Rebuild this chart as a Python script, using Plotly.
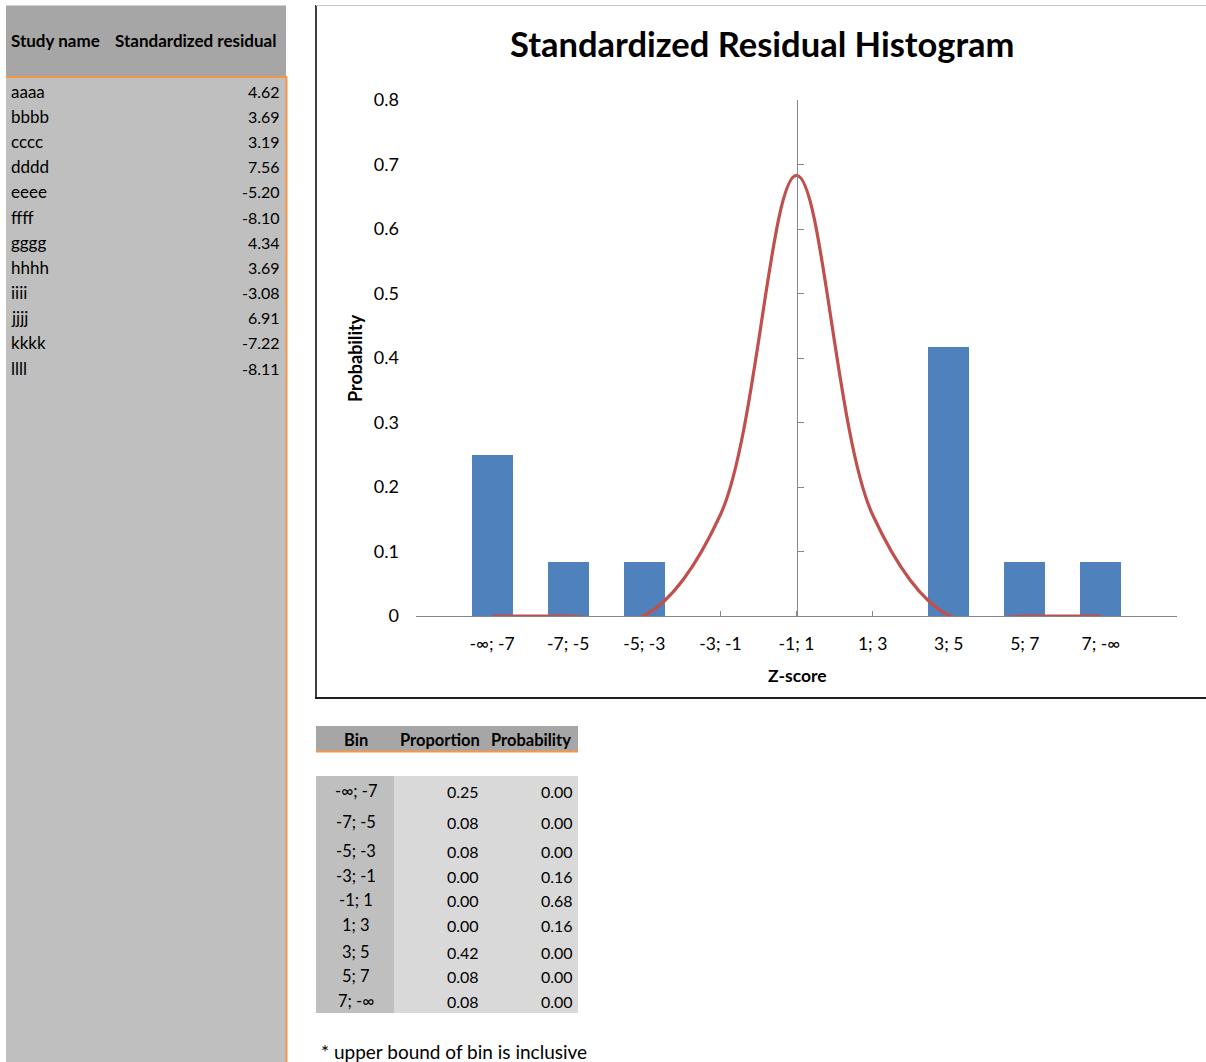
import plotly.graph_objects as go

# ---------------- data ----------------
study_names = ["aaaa", "bbbb", "cccc", "dddd", "eeee", "ffff",
               "gggg", "hhhh", "iiii", "jjjj", "kkkk", "llll"]
residuals = [4.62, 3.69, 3.19, 7.56, -5.20, -8.10, 4.34, 3.69, -3.08, 6.91, -7.22, -8.11]

bin_labels = ["-∞; -7", "-7; -5", "-5; -3", "-3; -1", "-1; 1", "1; 3", "3; 5", "5; 7", "7; -∞"]
bin_centers = [-8, -6, -4, -2, 0, 2, 4, 6, 8]
proportions = [0.25, 0.0833, 0.0833, 0.0, 0.0, 0.0, 0.4167, 0.0833, 0.0833]
probabilities = [0.0, 0.0, 0.001, 0.157, 0.683, 0.157, 0.001, 0.0, 0.0]

axis_ticks = [-10, -8, -6, -4, -2, 0, 2, 4, 6, 8, 10]
axis_ticktext = [""] + bin_labels + [""]

# ---------------- layout helpers (pixel -> paper) ----------------
W, H = 1206, 1062
FONT = "Lato, Carlito, 'Open Sans', sans-serif"


def px(x):
    return x / W


def py(y):
    return 1 - y / H


BLUE = "#4f81bd"
RED = "#c0504d"
ORANGE = "#f79646"
AXIS = "#868686"

fig = go.Figure()

fig.add_trace(go.Bar(
    x=bin_centers, y=proportions, width=1.08,
    marker=dict(color=BLUE, line=dict(width=0)),
    xaxis="x", yaxis="y", hoverinfo="skip", showlegend=False,
))
fig.add_trace(go.Scatter(
    x=bin_centers, y=probabilities, mode="lines",
    line=dict(color=RED, width=3.2, shape="spline", smoothing=1.0),
    xaxis="x", yaxis="y2", hoverinfo="skip", showlegend=False,
))

shapes = []


def rect(x0, y0, x1, y1, color):
    shapes.append(dict(type="rect", xref="paper", yref="paper",
                       x0=px(x0), x1=px(x1), y0=py(y1), y1=py(y0),
                       fillcolor=color, line=dict(width=0), layer="below"))


def line(x0, y0, x1, y1, color, width):
    shapes.append(dict(type="line", xref="paper", yref="paper",
                       x0=px(x0), x1=px(x1), y0=py(y0), y1=py(y1),
                       line=dict(color=color, width=width), layer="below"))


# left table
rect(6, 77, 286, 1062, "#bfbfbf")
rect(6, 6, 286, 77, "#a6a6a6")
line(6, 5.5, 286, 5.5, "#d0d0d0", 1)
line(6, 77, 287, 77, ORANGE, 2)
line(286.5, 77, 286.5, 1062, ORANGE, 2)

# chart frame
line(316, 5, 316, 699, "#404040", 2)
line(316, 5.5, 1206, 5.5, "#c8c8c8", 1)
line(315, 698, 1206, 698, "#202020", 2)

# bottom table
rect(316, 726, 578, 751, "#a6a6a6")
line(316, 751.5, 578, 751.5, ORANGE, 2)
rect(316, 776, 394, 1013, "#bfbfbf")
rect(394, 776, 578, 1013, "#d9d9d9")

annotations = []


def text(x, y, s, size=15, bold=False, xanchor="left", angle=0):
    annotations.append(dict(
        xref="paper", yref="paper", x=px(x), y=py(y),
        text=f"<b>{s}</b>" if bold else s, showarrow=False,
        xanchor=xanchor, yanchor="middle", textangle=angle,
        font=dict(family=FONT, size=size, color="black"),
    ))


# left table text
text(9, 41, "Study name", size=17, bold=True)
text(113, 41, "Standardized residual", size=17, bold=True)
row0, step = 91, 25.2
for i, (n, v) in enumerate(zip(study_names, residuals)):
    y = row0 + i * step
    text(9, y, n, size=17)
    text(282, y, f"{v:.2f}", size=16, xanchor="right")

# chart titles
text(762, 44, "Standardized Residual Histogram", size=34.5, bold=True, xanchor="center")
text(355, 358, "Probability", size=18, bold=True, xanchor="center", angle=-90)
text(797, 675, "Z-score", size=17.5, bold=True, xanchor="center")

# bottom table
text(356, 740, "Bin", size=16.5, bold=True, xanchor="center")
text(440, 740, "Proportion", size=16.5, bold=True, xanchor="center")
text(531, 740, "Probability", size=16.5, bold=True, xanchor="center")
table_row_y = [791, 822, 851, 876, 900, 925, 952, 976, 1001]
for y, b, p, q in zip(table_row_y, bin_labels, proportions, probabilities):
    text(356, y, b, size=16.5, xanchor="center")
    text(481, y, f"{p:.2f}", size=16, xanchor="right")
    text(575, y, f"{q:.2f}", size=16, xanchor="right")

text(319, 1051, "* upper bound of bin is inclusive", size=19)

fig.update_layout(
    template="none",
    width=W, height=H, autosize=False,
    margin=dict(l=0, r=0, t=0, b=0, pad=0, autoexpand=False),
    paper_bgcolor="white", plot_bgcolor="rgba(0,0,0,0)",
    showlegend=False, bargap=0,
    shapes=shapes, annotations=annotations,
    font=dict(family=FONT, color="black"),
    xaxis=dict(
        domain=[px(416), px(1177)], range=[-10, 10], anchor="y",
        automargin=False,
        tickmode="array", tickvals=axis_ticks, ticktext=axis_ticktext,
        ticks="inside", ticklen=5, tickcolor=AXIS, tickwidth=1,
        showline=True, linecolor=AXIS, linewidth=1.3,
        showgrid=False, zeroline=False, layer="below traces",
        tickfont=dict(family=FONT, size=17.5, color="black"),
        ticklabelstandoff=12, fixedrange=True,
    ),
    yaxis=dict(
        domain=[py(616), py(100)], range=[0, 0.8], anchor="x",
        automargin=False,
        tickmode="linear", tick0=0, dtick=0.1,
        ticks="", showline=False, showgrid=False, zeroline=False,
        tickfont=dict(family=FONT, size=18, color="black"),
        ticklabelstandoff=16, fixedrange=True,
    ),
    yaxis2=dict(
        overlaying="y", anchor="free", position=px(797), side="left",
        automargin=False,
        range=[0, 0.8], tickmode="linear", tick0=0, dtick=0.1,
        ticks="inside", ticklen=6, tickcolor=AXIS, tickwidth=1,
        showline=True, linecolor=AXIS, linewidth=1.3,
        showticklabels=False, showgrid=False, zeroline=False, fixedrange=True,
    ),
)

fig.write_html(
    "out.html",
    config={"displayModeBar": False},
    post_script=("document.body.style.margin='0px';"
                 "document.body.style.padding='0px';"
                 "document.documentElement.style.overflow='hidden';"
                 "window.scrollTo(0,0);"),
)
